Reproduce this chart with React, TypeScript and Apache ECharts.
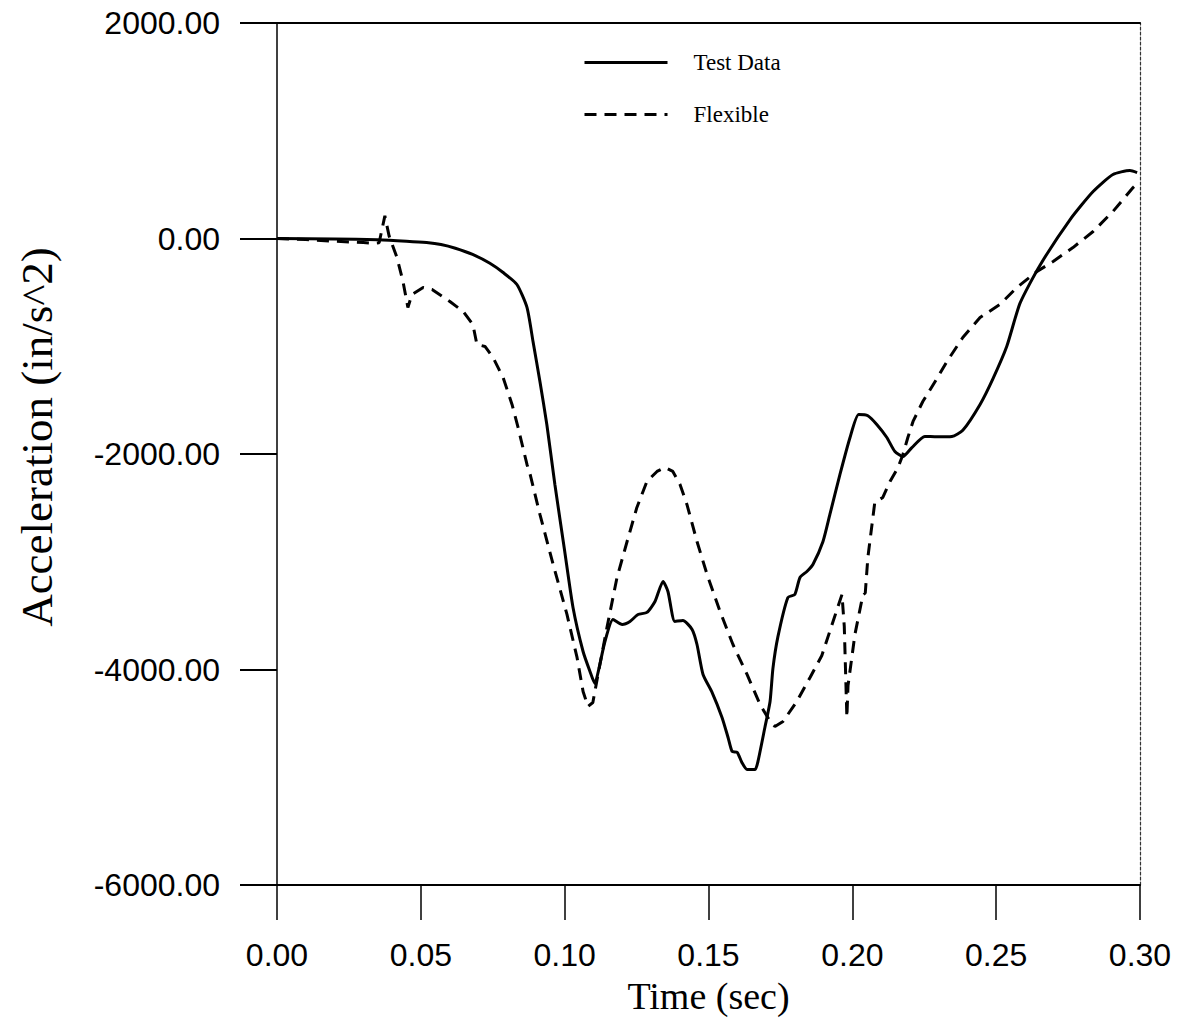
import React, { useEffect, useRef } from "react";
import * as echarts from "echarts";

// Time axis ticks (sec) and acceleration ticks (in/s^2)
const xTicks = [0, 0.05, 0.1, 0.15, 0.2, 0.25, 0.3];
const yTicks = [-6000, -4000, -2000, 0, 2000];

// Test Data (solid)
const testTime = [
  0, 0.02, 0.035, 0.045, 0.052, 0.057, 0.062, 0.068, 0.074, 0.0786,
  0.0834, 0.0869, 0.089, 0.0914, 0.0938, 0.0966, 0.1, 0.1029, 0.1064, 0.1088,
  0.1105, 0.112, 0.114, 0.1168, 0.12, 0.1227, 0.1255, 0.1286, 0.1314, 0.1342,
  0.1359, 0.1383, 0.1411, 0.1443, 0.146, 0.1481, 0.1512, 0.1547, 0.1568, 0.1582,
  0.16, 0.1616, 0.1634, 0.1662, 0.1672, 0.1696, 0.1714, 0.1724, 0.1741, 0.1776,
  0.18, 0.1818, 0.1842, 0.1863, 0.1898, 0.1922, 0.1957, 0.1992, 0.2022, 0.2054,
  0.2085, 0.212, 0.2148, 0.2176, 0.2207, 0.2252, 0.2294, 0.2346, 0.2384, 0.2444,
  0.2489, 0.2537, 0.2583, 0.2652, 0.2757, 0.2837, 0.2906, 0.2965, 0.299,
];
const testAccel = [
  0, -5, -12, -25, -38, -56, -90, -148, -230, -316,
  -427, -640, -956, -1327, -1726, -2283, -2900, -3424, -3833, -4018,
  -4130, -3980, -3740, -3536, -3582, -3554, -3490, -3470, -3369, -3183,
  -3276, -3554, -3545, -3628, -3768, -4046, -4210, -4445, -4631, -4760,
  -4770, -4863, -4928, -4928, -4853, -4538, -4297, -3990, -3700, -3332,
  -3304, -3146, -3090, -3025, -2812, -2561, -2190, -1847, -1633, -1645,
  -1726, -1847, -1977, -2023, -1940, -1837, -1840, -1837, -1780, -1540,
  -1300, -1000, -600, -250, 176, 436, 594, 631, 612,
];

// Flexible (dashed)
const flexTime = [
  0, 0.01, 0.02, 0.03, 0.0334, 0.0355, 0.0375, 0.039, 0.0417, 0.0438,
  0.0455, 0.0469, 0.0508, 0.0539, 0.0601, 0.0647, 0.0681, 0.0695, 0.0723, 0.0751,
  0.0786, 0.0817, 0.0838, 0.0869, 0.088, 0.0914, 0.096, 0.1008, 0.1043, 0.1064,
  0.1081, 0.1098, 0.1116, 0.1147, 0.1182, 0.1217, 0.1251, 0.1286, 0.1321, 0.1349,
  0.1376, 0.1401, 0.1425, 0.146, 0.1495, 0.154, 0.1585, 0.1634, 0.1679, 0.1714,
  0.1731, 0.1759, 0.1807, 0.1853, 0.1894, 0.1933, 0.1964, 0.1972, 0.1981, 0.1985,
  0.2009, 0.2037, 0.2045, 0.2054, 0.2078, 0.2106, 0.2131, 0.2159, 0.2176, 0.2193,
  0.2211, 0.2245, 0.2294, 0.2329, 0.2384, 0.2444, 0.2513, 0.2572, 0.2642, 0.2698,
  0.2767, 0.2837, 0.2906, 0.2976, 0.3,
];
const flexAccel = [
  0, -10, -25, -38, -45, -40, 210, 20, -176, -399,
  -640, -520, -455, -473, -585, -677, -798, -984, -1002, -1104,
  -1290, -1540, -1754, -2097, -2190, -2561, -3025, -3489, -3888, -4204,
  -4343, -4306, -4046, -3610, -3146, -2812, -2496, -2255, -2162, -2125,
  -2162, -2283, -2468, -2812, -3118, -3461, -3768, -4046, -4324, -4482,
  -4529, -4482, -4297, -4074, -3870, -3554, -3304, -3600, -4445, -4150,
  -3675, -3304, -3290, -2960, -2450, -2403, -2255, -2125, -2004, -1847,
  -1698, -1513, -1300, -1141, -919, -733, -612, -455, -306, -213,
  -84, 65, 251, 473, 530,
];

const seriesNames = ["Test Data", "Flexible"];

const SANS = "'Liberation Sans', Arial, Helvetica, sans-serif";
const SERIF = "'Liberation Serif', 'Times New Roman', Times, serif";

export default function App() {
  const ref = useRef<HTMLDivElement>(null);

  useEffect(() => {
    if (!ref.current) return;
    const chart = echarts.init(ref.current, undefined, { renderer: "svg" });

    const pairs = (xs: number[], ys: number[]) => xs.map((x, i) => [x, ys[i]]);

    chart.setOption({
      animation: false,
      backgroundColor: "#ffffff",
      grid: { left: 277, top: 23, right: 37, bottom: 141, containLabel: false },
      legend: {
        data: seriesNames,
        orient: "vertical",
        left: 578,
        top: 46,
        itemWidth: 83,
        itemHeight: 24,
        itemGap: 29,
        itemStyle: { opacity: 0 },
        lineStyle: { width: 3 },
        textStyle: {
          fontFamily: SERIF,
          fontSize: 23,
          color: "#000",
          padding: [0, 0, 0, 21],
        },
      },
      xAxis: [
        {
          type: "value",
          min: xTicks[0],
          max: xTicks[xTicks.length - 1],
          interval: 0.05,
          position: "bottom",
          name: "Time (sec)",
          nameLocation: "middle",
          nameGap: 92,
          nameTextStyle: { fontFamily: SERIF, fontSize: 38, color: "#000" },
          axisLine: { show: true, onZero: false, lineStyle: { color: "#000", width: 2 } },
          axisTick: { show: true, inside: false, length: 35, lineStyle: { color: "#000", width: 1.5 } },
          axisLabel: {
            margin: 54,
            fontFamily: SANS,
            fontSize: 32,
            color: "#000",
            formatter: (v: number) => v.toFixed(2),
          },
          splitLine: { show: false },
        },
        {
          type: "value",
          min: xTicks[0],
          max: xTicks[xTicks.length - 1],
          position: "top",
          axisLine: { show: true, onZero: false, lineStyle: { color: "#000", width: 2 } },
          axisTick: { show: false },
          axisLabel: { show: false },
          splitLine: { show: false },
        },
      ],
      yAxis: [
        {
          type: "value",
          min: yTicks[0],
          max: yTicks[yTicks.length - 1],
          interval: 2000,
          position: "left",
          name: "Acceleration (in/s^2)",
          nameLocation: "middle",
          nameGap: 218,
          nameTextStyle: {
            fontFamily: SERIF,
            fontSize: 45,
            color: "#000",
            padding: [0, 0, 0, 34],
          },
          axisLine: { show: true, onZero: false, lineStyle: { color: "#000", width: 1.5 } },
          axisTick: { show: true, inside: false, length: 37, lineStyle: { color: "#000", width: 2 } },
          axisLabel: {
            margin: 57,
            fontFamily: SANS,
            fontSize: 32,
            color: "#000",
            formatter: (v: number) => v.toFixed(2),
          },
          splitLine: { show: false },
        },
        {
          type: "value",
          min: yTicks[0],
          max: yTicks[yTicks.length - 1],
          position: "right",
          axisLine: { show: true, onZero: false, lineStyle: { color: "#333", width: 1.2, type: [3, 2] } },
          axisTick: { show: false },
          axisLabel: { show: false },
          splitLine: { show: false },
        },
      ],
      series: [
        {
          name: seriesNames[0],
          type: "line",
          data: pairs(testTime, testAccel),
          showSymbol: false,
          symbol: "none",
          smooth: 0.2,
          lineStyle: { color: "#000", width: 3, type: "solid" },
          itemStyle: { color: "#000" },
        },
        {
          name: seriesNames[1],
          type: "line",
          data: pairs(flexTime, flexAccel),
          showSymbol: false,
          symbol: "none",
          smooth: false,
          lineStyle: { color: "#000", width: 3, type: [12, 8] },
          itemStyle: { color: "#000" },
        },
      ],
    });

    return () => chart.dispose();
  }, []);

  return (
    <div
      ref={ref}
      style={{ position: "fixed", left: 0, top: 0, width: 1177, height: 1026, background: "#fff" }}
    />
  );
}
